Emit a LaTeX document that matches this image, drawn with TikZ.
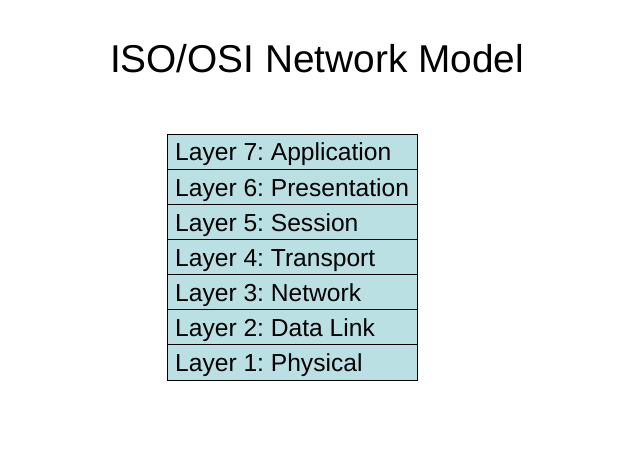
\documentclass[tikz,border=0pt]{standalone}
\usepackage{fontspec}
\setmainfont{Liberation Sans}
\definecolor{layerfill}{HTML}{BBE0E3}
\begin{document}
\frenchspacing
\begin{tikzpicture}[x=1pt,y=-1pt,
  titlestyle/.style={font=\fontsize{38.8}{42}\selectfont, anchor=base, inner sep=0pt},
  layerbox/.style={draw=black, line width=0.8pt, fill=layerfill, anchor=north west,
    minimum height=35.14pt, minimum width=250pt, inner sep=0pt, outer sep=0pt},
  layertext/.style={anchor=base west, inner sep=0pt, font=\fontsize{24.6}{26}\selectfont}]
\useasboundingbox (0,0) rectangle (635,476);
\node[titlestyle] (title) at (317,73) {ISO/OSI Network Model};
\node[layerbox] (l7) at (167,134) {};
\node[layerbox] (l6) at (l7.south west) {};
\node[layerbox] (l5) at (l6.south west) {};
\node[layerbox] (l4) at (l5.south west) {};
\node[layerbox] (l3) at (l4.south west) {};
\node[layerbox] (l2) at (l3.south west) {};
\node[layerbox] (l1) at (l2.south west) {};
\node[layertext] (t7) at ([shift={(8,27)}]l7.north west) {Layer 7: Application};
\node[layertext] (t6) at ([shift={(8,27)}]l6.north west) {Layer 6: Presentation};
\node[layertext] (t5) at ([shift={(8,27)}]l5.north west) {Layer 5: Session};
\node[layertext] (t4) at ([shift={(8,27)}]l4.north west) {Layer 4: Transport};
\node[layertext] (t3) at ([shift={(8,27)}]l3.north west) {Layer 3: Network};
\node[layertext] (t2) at ([shift={(8,27)}]l2.north west) {Layer 2: Data Link};
\node[layertext] (t1) at ([shift={(8,27)}]l1.north west) {Layer 1: Physical};
\end{tikzpicture}
\end{document}
